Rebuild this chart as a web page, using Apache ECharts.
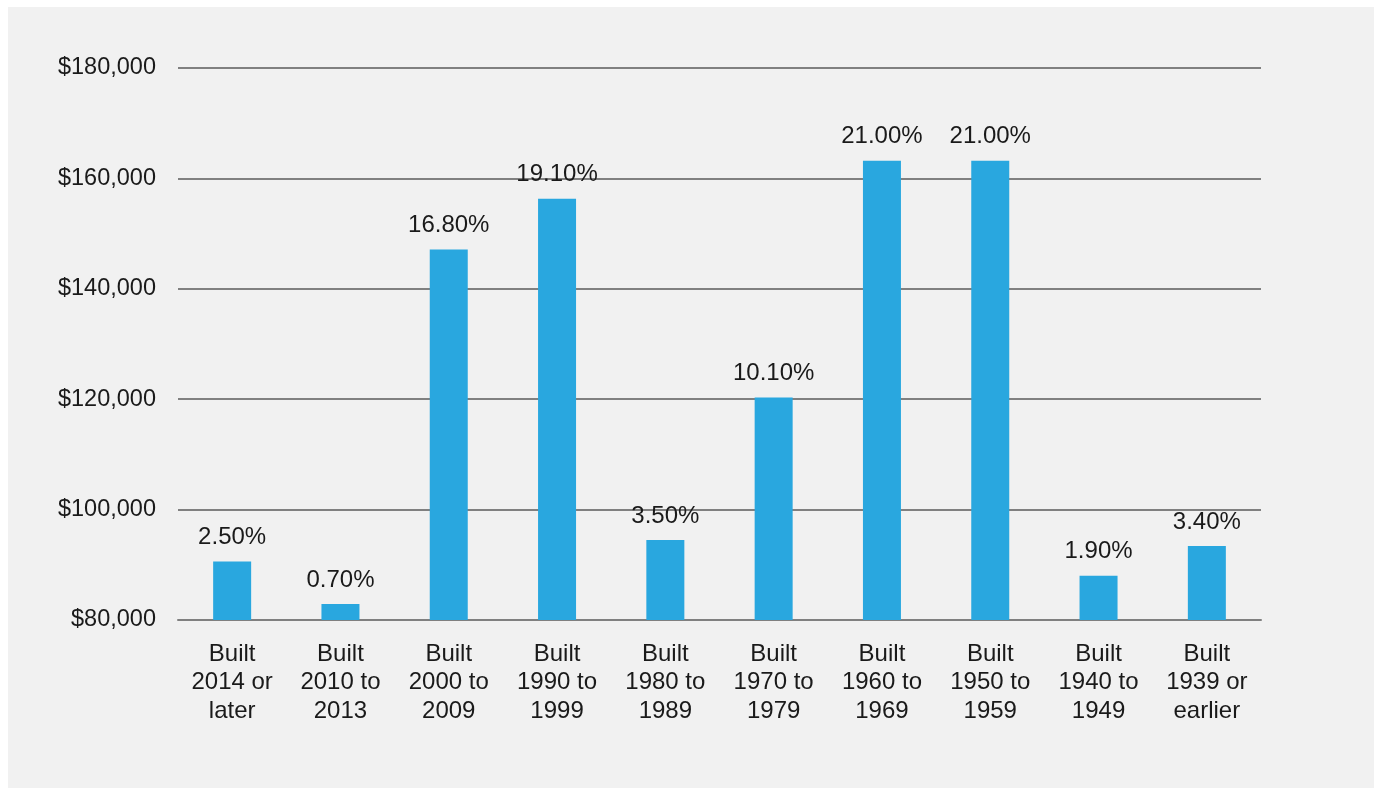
<!DOCTYPE html>
<html>
<head>
<meta charset="utf-8">
<script src="https://cdn.jsdelivr.net/npm/echarts@6/dist/echarts.min.js"></script>
<style>
  html, body { margin: 0; padding: 0; background: #ffffff; }
  #panel {
    position: absolute; left: 8px; top: 7px;
    width: 1366px; height: 781px;
    background: #f1f1f1;
  }
</style>
</head>
<body>
<div id="panel"></div>
<script>
// Median home value by year built, labelled with each era's share of homes
const categories = [
  'Built\n2014 or\nlater', 'Built\n2010 to\n2013', 'Built\n2000 to\n2009',
  'Built\n1990 to\n1999', 'Built\n1980 to\n1989', 'Built\n1970 to\n1979',
  'Built\n1960 to\n1969', 'Built\n1950 to\n1959', 'Built\n1940 to\n1949',
  'Built\n1939 or\nearlier'
];
const medianValues = [90600, 82900, 147100, 156300, 94500, 120300, 163200, 163200, 88000, 93400];
const shareLabels = ['2.50%', '0.70%', '16.80%', '19.10%', '3.50%', '10.10%', '21.00%', '21.00%', '1.90%', '3.40%'];
const yTicks = { min: 80000, max: 180000, interval: 20000 };

const font = '"Liberation Sans", Arial, Helvetica, sans-serif';
const textColor = '#1a1a1a';

const chart = echarts.init(document.getElementById('panel'));
chart.setOption({
  backgroundColor: '#f1f1f1',
  animation: false,
  grid: { left: 170, right: 113, top: 61, bottom: 168 },
  xAxis: {
    type: 'category',
    data: categories,
    axisLine: { show: true, lineStyle: { color: '#808080', width: 2 } },
    axisTick: { show: false },
    axisLabel: {
      interval: 0, margin: 20, color: textColor,
      fontFamily: font, fontSize: 24, lineHeight: 28.5
    }
  },
  yAxis: {
    type: 'value',
    min: yTicks.min, max: yTicks.max, interval: yTicks.interval,
    axisLine: { show: false },
    axisTick: { show: false },
    splitLine: { lineStyle: { color: '#808080', width: 2 } },
    axisLabel: {
      margin: 22, color: textColor, fontFamily: font, fontSize: 23.5,
      formatter: v => '$' + v.toLocaleString('en-US')
    }
  },
  series: [{
    type: 'bar',
    data: medianValues,
    barWidth: 38,
    itemStyle: { color: '#29a7df' },
    label: {
      show: true, position: 'top', distance: 12,
      color: textColor, fontFamily: font, fontSize: 24,
      formatter: p => shareLabels[p.dataIndex]
    }
  }]
});
</script>
</body>
</html>
